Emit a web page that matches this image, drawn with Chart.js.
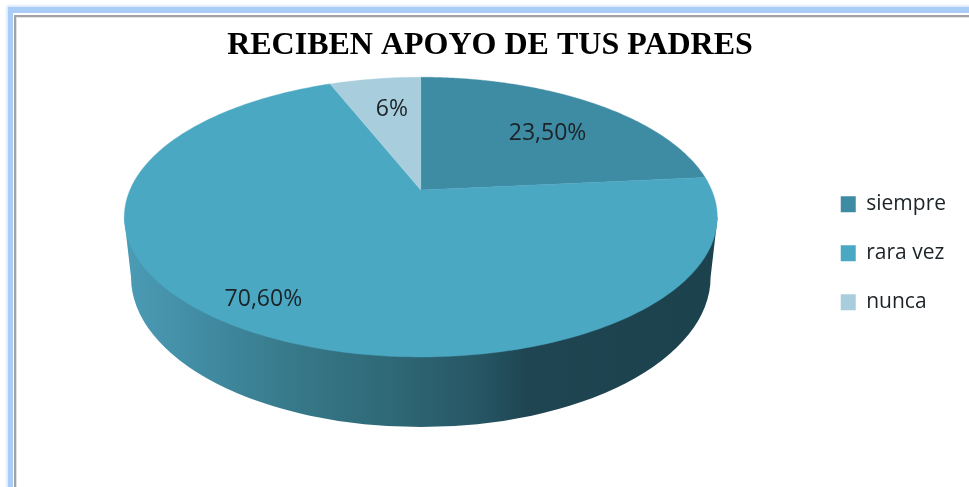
<!DOCTYPE html>
<html>
<head>
<meta charset="utf-8">
<script src="https://cdn.jsdelivr.net/npm/chart.js@4"></script>
<style>
html,body{margin:0;padding:0;width:969px;height:487px;overflow:hidden;background:#fff}
#wrap{position:relative;width:969px;height:487px;overflow:hidden}
#glow{position:absolute;left:8px;top:7px;width:1200px;height:800px;box-sizing:border-box;border-left:5px solid #aacdf7;border-top:6px solid #aacdf7;box-shadow:0 0 3px 1px #c4ddfa}
#line{position:absolute;left:14px;top:15px;width:1200px;height:800px;box-sizing:border-box;border-left:2px solid #a3a3a3;border-top:2px solid #a3a3a3;background:#fff}
#edge{position:absolute;left:16px;top:17px;width:1200px;height:800px;box-sizing:border-box;border-left:1px solid #e2e2e2;border-top:1px solid #e2e2e2}
canvas{position:absolute;left:0;top:0}
</style>
</head>
<body>
<div id="wrap">
<div id="glow"></div><div id="line"></div><div id="edge"></div>
<canvas id="c" width="980" height="487" style="width:980px;height:487px"></canvas>
</div>
<script>
const chartTitle = 'RECIBEN APOYO DE TUS PADRES';
const categories = ['siempre', 'rara vez', 'nunca'];
const values = [23.5, 70.6, 6];
const valueLabels = ['23,50%', '70,60%', '6%'];
const sliceColors = ['#3e8ba4', '#4ba8c3', '#a8cedd'];

// Perspective of the tilted disc, as factors of the library's outer radius.
const view = { a: 1.549, b: 0.717, p: -0.193, apexDy: -0.336, apexDx: 0.013,
  baseDy: 0.128, baseRx: 1.543, baseRy: 0.798, topRx: 1.58, topDy: -0.192 };
// Where each value label sits in the disc: fraction of radius, and turn from slice middle (deg).
const labelPlace = [{ r: 0.661, turn: 3.6 }, { r: 0.842, turn: 2.3 }, { r: 0.689, turn: 1.4 }];

function project(arc, angle, r) {
  const R = arc.outerRadius;
  const u = Math.cos(angle) * r, v = Math.sin(angle) * r;
  const d = 1 + view.p * v;
  return { x: arc.x + view.apexDx * R + view.a * R * u / d, y: arc.y + view.apexDy * R + view.b * R * v / d };
}

const disc3d = {
  id: 'disc3d',
  beforeDatasetDraw(chart, args) {
    const ctx = chart.ctx;
    const arcs = chart.getDatasetMeta(args.index).data;
    const A = arcs[0], R = A.outerRadius, X = A.x + view.apexDx * R;
    // side wall
    const g = ctx.createLinearGradient(X - view.topRx * R, 0, X + view.topRx * R, 0);
    g.addColorStop(0, '#4b9cb6');
    g.addColorStop(0.16, '#3f889e');
    g.addColorStop(0.30, '#367787');
    g.addColorStop(0.47, '#2e6674');
    g.addColorStop(0.60, '#265664');
    g.addColorStop(0.68, '#1e4551');
    g.addColorStop(1, '#1c424e');
    ctx.save();
    ctx.fillStyle = g;
    ctx.beginPath();
    ctx.ellipse(X, A.y + view.baseDy * R, view.baseRx * R, view.baseRy * R, 0, 0, Math.PI);
    ctx.lineTo(X - view.topRx * R, A.y + view.topDy * R);
    ctx.lineTo(X + view.topRx * R, A.y + view.topDy * R);
    ctx.closePath();
    ctx.fill();
    // top face, each slice follows the library's start and end angles
    arcs.forEach((arc, i) => {
      ctx.beginPath();
      const c = project(arc, 0, 0);
      ctx.moveTo(c.x, c.y);
      const n = 240;
      for (let k = 0; k <= n; k++) {
        const t = arc.startAngle + (arc.endAngle - arc.startAngle) * k / n;
        const q = project(arc, t, 1);
        ctx.lineTo(q.x, q.y);
      }
      ctx.closePath();
      ctx.fillStyle = sliceColors[i];
      ctx.strokeStyle = sliceColors[i];
      ctx.lineWidth = 0.4;
      ctx.fill();
      ctx.stroke();
    });
    // value labels
    ctx.fillStyle = '#1c2327';
    ctx.font = '23px "Open Sans"';
    ctx.textAlign = 'center';
    ctx.textBaseline = 'middle';
    arcs.forEach((arc, i) => {
      const mid = (arc.startAngle + arc.endAngle) / 2 + labelPlace[i].turn * Math.PI / 180;
      const q = project(arc, mid, labelPlace[i].r);
      ctx.fillText(valueLabels[i], q.x, q.y);
    });
    ctx.restore();
    return false;
  }
};

new Chart(document.getElementById('c'), {
  type: 'pie',
  data: {
    labels: categories,
    datasets: [{ data: values, backgroundColor: sliceColors, borderWidth: 0 }]
  },
  options: {
    responsive: false,
    animation: false,
    events: [],
    layout: { padding: { left: 24, right: 24, bottom: 46 } },
    plugins: {
      tooltip: { enabled: false },
      title: {
        display: true,
        text: chartTitle,
        color: '#000',
        font: { family: '"Liberation Serif"', size: 32, weight: 'bold' },
        padding: { top: 27, bottom: 0 }
      },
      legend: {
        position: 'right',
        fullSize: false,
        labels: {
          boxWidth: 15, boxHeight: 16, padding: 28,
          color: '#1c2327',
          font: { family: '"Open Sans"', size: 21 }
        }
      }
    }
  },
  plugins: [disc3d]
});
</script>
</body>
</html>
